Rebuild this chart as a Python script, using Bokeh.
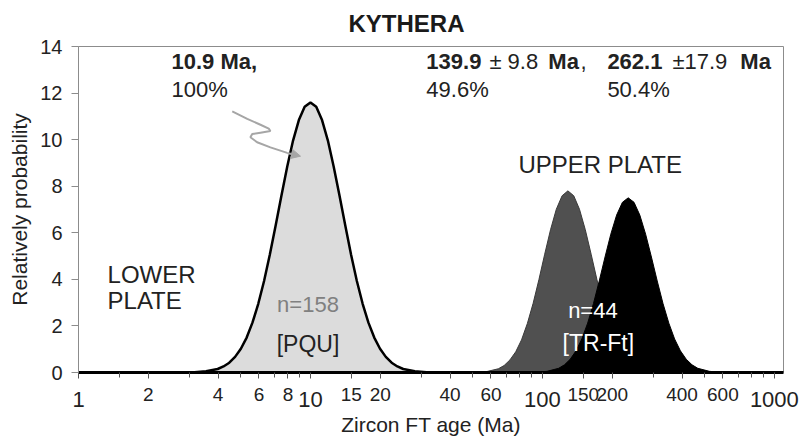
from bokeh.plotting import figure
from bokeh.models import (FixedTicker, PrintfTickFormatter, Label, LogAxis,
                          Arrow, NormalHead)
from bokeh.embed import file_html
from bokeh.resources import INLINE

FONT = "Liberation Sans"

# ---------------- data ----------------
pqu_age = [2.818, 3.162, 3.548, 3.981, 4.217, 4.467, 4.732, 5.012, 5.309, 5.623,
           5.957, 6.310, 6.683, 7.079, 7.499, 7.943, 8.414, 8.913, 9.441, 10.0,
           10.59, 11.22, 11.89, 12.59, 13.34, 14.13, 14.96, 15.85, 16.79, 17.78,
           18.84, 19.95, 21.13, 22.39, 23.71, 25.12, 28.18, 31.62, 35.48]
pqu_prob = [0.003, 0.013, 0.05, 0.15, 0.26, 0.42, 0.67, 1.02, 1.50, 2.14,
            2.95, 3.93, 5.07, 6.31, 7.60, 8.85, 9.96, 10.84, 11.41, 11.60,
            11.41, 10.84, 9.96, 8.85, 7.60, 6.31, 5.07, 3.93, 2.95, 2.14,
            1.50, 1.02, 0.67, 0.42, 0.26, 0.15, 0.05, 0.013, 0.003]

tr1_age = [51.29, 57.54, 64.57, 68.39, 72.44, 76.74, 81.28, 86.10, 91.20, 96.61,
           102.3, 108.4, 114.8, 121.6, 128.8, 136.5, 144.5, 153.1, 162.2, 171.8,
           182.0, 192.8, 204.2, 216.3, 229.1, 242.7, 257.0, 288.4, 323.6]
tr1_prob = [0.01, 0.04, 0.16, 0.30, 0.54, 0.89, 1.40, 2.10, 2.97, 3.99,
            5.08, 6.13, 7.01, 7.59, 7.80, 7.59, 7.01, 6.13, 5.08, 3.99,
            2.97, 2.10, 1.40, 0.89, 0.54, 0.30, 0.16, 0.04, 0.01]

tr2_age = [93.33, 104.7, 117.5, 124.5, 131.8, 139.6, 147.9, 156.7, 166.0, 175.8,
           186.2, 197.2, 208.9, 221.3, 234.4, 248.3, 263.0, 278.6, 295.1, 312.6,
           331.1, 350.8, 371.5, 393.6, 416.9, 441.6, 467.7, 524.8, 588.8]
tr2_prob = [0.01, 0.05, 0.18, 0.33, 0.57, 0.93, 1.44, 2.12, 2.96, 3.93,
            4.96, 5.94, 6.76, 7.31, 7.50, 7.31, 6.76, 5.94, 4.96, 3.93,
            2.96, 2.12, 1.44, 0.93, 0.57, 0.33, 0.18, 0.05, 0.01]

x_decades = [1, 10, 100, 1000]
x_minor_labeled = [2, 4, 6, 8, 15, 20, 40, 60, 150, 200, 400, 600]
x_minor_unlabeled = [1.5, 3, 5, 7, 9, 30, 50, 70, 80, 90, 300, 500, 700, 800, 900]
y_ticks = [0, 2, 4, 6, 8, 10, 12, 14]

arrow_x = [4.60, 5.34, 6.09, 6.61, 6.72, 6.09, 5.61, 5.51, 5.89, 6.72, 7.94]
arrow_y = [11.21, 10.89, 10.64, 10.47, 10.37, 10.30, 10.24, 10.10, 9.89, 9.67, 9.43]
arrow_tip = (9.06, 9.29)

# ---------------- figure ----------------
p = figure(width=807, height=440, x_axis_type="log", x_range=(1, 1095), y_range=(0, 14),
           output_backend="svg", toolbar_location=None,
           min_border_left=78, min_border_right=24, min_border_top=46, min_border_bottom=68)
p.xgrid.visible = False
p.ygrid.visible = False
p.outline_line_color = "#8c8c8c"
p.outline_line_width = 1

# title
p.title.text = "KYTHERA"
p.title.align = "left"
p.title.offset = 270
p.title.vertical_align = "top"
p.title.standoff = 16
p.title.text_font = FONT
p.title.text_font_size = "24px"
p.title.text_font_style = "bold"
p.title.text_color = "#1a1a1a"

# curves
p.varea(x=pqu_age, y1=0, y2=pqu_prob, fill_color="#dcdcdc")
p.line(pqu_age, pqu_prob, line_color="black", line_width=2.5)
p.varea(x=tr1_age, y1=0, y2=tr1_prob, fill_color="#505050")
p.line(tr1_age, tr1_prob, line_color="#3a3a3a", line_width=1)
p.varea(x=tr2_age, y1=0, y2=tr2_prob, fill_color="#000000")
p.line(tr2_age, tr2_prob, line_color="#000000", line_width=1)

# x axis: tick marks + small (intermediate) labels
xa = p.xaxis[0]
xa.ticker = FixedTicker(ticks=x_decades + x_minor_labeled, minor_ticks=x_minor_unlabeled)
xa.formatter = PrintfTickFormatter(format="%d")
xa.major_label_overrides = {d: "" for d in x_decades}
xa.axis_line_color = "black"
xa.axis_line_width = 3
xa.major_tick_line_color = "#555555"
xa.minor_tick_line_color = "#555555"
xa.major_tick_out = 6
xa.major_tick_in = 0
xa.minor_tick_out = 5
xa.minor_tick_in = 0
xa.major_label_text_font = FONT
xa.major_label_text_font_size = "19px"
xa.major_label_text_color = "#222222"
xa.major_label_standoff = 9

# second x axis: decade labels (larger) + axis title
xb = LogAxis(ticker=FixedTicker(ticks=x_decades), formatter=PrintfTickFormatter(format="%d"))
xb.axis_line_color = None
xb.major_tick_line_color = None
xb.minor_tick_line_color = None
xb.major_tick_out = 0
xb.major_tick_in = 0
xb.minor_tick_out = 0
xb.minor_tick_in = 0
xb.major_label_standoff = -12
xb.major_label_text_font = FONT
xb.major_label_text_font_size = "22px"
xb.major_label_text_color = "#222222"
xb.axis_label = "Zircon FT age (Ma)"
xb.axis_label_text_font = FONT
xb.axis_label_text_font_size = "21px"
xb.axis_label_text_font_style = "normal"
xb.axis_label_text_color = "#222222"
xb.axis_label_standoff = 3
p.add_layout(xb, "below")

ya = p.yaxis[0]
ya.ticker = FixedTicker(ticks=y_ticks)
ya.axis_line_color = "#8c8c8c"
ya.major_tick_line_color = "#8c8c8c"
ya.major_tick_out = 7
ya.major_tick_in = 0
ya.minor_tick_line_color = None
ya.major_label_text_font = FONT
ya.major_label_text_font_size = "20px"
ya.major_label_text_color = "#222222"
ya.major_label_standoff = 9
ya.axis_label = "Relatively probability"
ya.axis_label_text_font = FONT
ya.axis_label_text_font_size = "21px"
ya.axis_label_text_font_style = "normal"
ya.axis_label_text_color = "#222222"
ya.axis_label_standoff = 6


def lab(x, y, t, size="22px", style="normal", color="#222222", align="left"):
    p.add_layout(Label(x=x, y=y, text=t, text_align=align, text_baseline="middle",
                       text_font=FONT, text_font_size=size, text_font_style=style, text_color=color))


# peak annotations (y = middle of capitals)
lab(2.517, 13.375, "10.9 Ma,", style="bold")
lab(2.517, 12.15, "100%")
lab(31.6, 13.375, "139.9", style="bold")
lab(59.1, 13.375, "± 9.8")
lab(106.1, 13.375, "Ma", style="bold")
lab(145.8, 13.375, ",")
lab(31.6, 12.15, "49.6%")
lab(190.6, 13.375, "262.1", style="bold")
lab(363.4, 13.375, "±17.9")
lab(713.5, 13.375, "Ma", style="bold")
lab(190.6, 12.15, "50.4%")

# region labels
lab(78.8, 8.95, "UPPER PLATE", size="24px")
lab(1.334, 4.2, "LOWER", size="24px")
lab(1.334, 3.08, "PLATE", size="24px")
lab(9.76, 2.90, "n=158", color="#808080", align="center")
lab(9.76, 1.22, "[PQU]", size="23px", align="center")
lab(165.1, 2.66, "n=44", color="white", align="center")
lab(174.3, 1.27, "[TR-Ft]", size="23px", color="white", align="center")

# hand-drawn arrow
p.line(arrow_x, arrow_y, line_color="#a6a6a6", line_width=2)
p.add_layout(Arrow(end=NormalHead(size=9, fill_color="#a6a6a6", line_color="#a6a6a6"),
                   x_start=arrow_x[-1], y_start=arrow_y[-1],
                   x_end=arrow_tip[0], y_end=arrow_tip[1],
                   line_color="#a6a6a6", line_width=2))

open("out.html", "w").write(file_html(p, INLINE))
